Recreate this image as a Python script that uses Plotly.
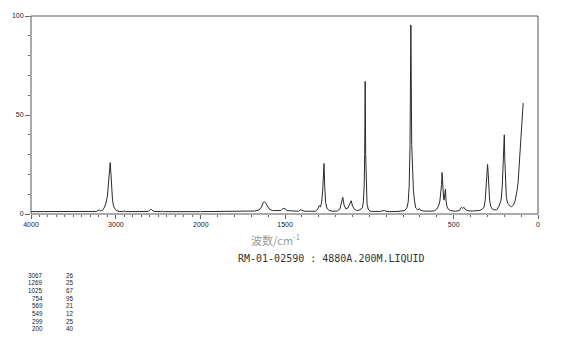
import plotly.graph_objects as go

# ---- data ----
# Raman spectrum: wavenumber (cm-1) and relative intensity (%)
wavenumber = [
    4000, 3600, 3300, 3230, 3210, 3195, 3180, 3160, 3140, 3120, 3100, 3088, 3078,
    3067, 3058, 3050, 3040, 3028, 3010, 2990, 2960, 2915, 2905, 2880, 2700, 2620,
    2600, 2588, 2575, 2550, 2470, 2455, 2440, 2300, 2150, 2000,
    1800, 1720, 1680, 1655, 1640, 1630, 1622, 1614, 1605, 1595, 1575, 1545, 1525,
    1512, 1500, 1488, 1470, 1460, 1450, 1420, 1410, 1400, 1388, 1340, 1320, 1305,
    1298, 1290, 1283, 1277, 1272, 1269, 1265, 1260, 1252, 1240, 1220, 1190, 1175,
    1166, 1158, 1150, 1140, 1128, 1118, 1108, 1100, 1088, 1075, 1062, 1050, 1042,
    1036, 1031, 1028, 1025, 1022, 1019, 1014, 1007, 998, 985, 935, 912, 902, 880,
    830, 790, 778, 770, 764, 759, 754, 749, 744, 739, 733, 725, 713, 703, 695, 680,
    640, 615, 600, 590, 582, 576, 572, 569, 565, 560, 557, 553, 549, 545, 540, 532,
    518, 490, 465, 458, 454, 447, 440, 433, 420, 390, 360, 345, 330, 320, 313, 307,
    303, 299, 295, 291, 287, 281, 272, 260, 245, 231, 219, 212, 207, 203, 200, 197,
    193, 188, 180, 172, 164, 156, 146, 137, 130, 124, 118, 114, 109, 104, 99, 94, 88,
]
intensity = [
    1.2, 1.2, 1.2, 1.3, 1.8, 2.0, 1.6, 1.8, 3.0, 5.0, 9.0, 14.0, 20.0,
    26.0, 20.0, 12.0, 7.0, 4.0, 2.5, 1.7, 1.3, 1.2, 1.6, 1.2, 1.2, 1.3,
    2.0, 2.5, 1.9, 1.3, 1.2, 1.5, 1.2, 1.2, 1.3, 1.2,
    1.2, 1.3, 1.5, 2.0, 3.5, 5.8, 6.2, 5.5, 4.0, 2.6, 1.7, 1.6, 1.8,
    2.9, 2.6, 1.7, 1.6, 1.9, 1.5, 1.4, 2.1, 2.0, 1.4, 1.3, 1.4, 2.6,
    4.2, 3.6, 6.0, 12.0, 18.0, 25.5, 14.0, 6.0, 3.0, 1.8, 1.4, 1.5, 2.5,
    5.0, 8.4, 4.5, 2.6, 3.0, 4.6, 6.7, 4.0, 2.3, 1.8, 1.9, 2.5, 3.2,
    6.0, 14.0, 30.0, 67.0, 30.0, 14.0, 5.0, 2.5, 1.5, 1.3, 1.3, 1.8, 1.4, 1.2,
    1.3, 1.8, 3.0, 6.0, 14.0, 35.0, 95.5, 35.0, 16.0, 12.0, 7.0, 3.0, 2.0, 2.8, 1.8, 1.5,
    1.4, 1.6, 2.5, 4.0, 6.5, 11.0, 15.0, 21.0, 13.0, 8.0, 7.0, 9.0, 12.6, 6.5, 3.8, 2.4,
    1.7, 1.4, 1.8, 3.0, 3.4, 2.8, 3.4, 2.5, 1.7, 1.5, 1.6, 1.8, 2.5, 3.5, 7.0, 14.0,
    20.0, 25.0, 20.0, 12.0, 7.0, 4.0, 2.6, 2.0, 2.2, 4.0, 7.0, 14.0, 24.0, 32.0, 40.0, 28.0,
    15.0, 8.7, 5.5, 4.5, 3.9, 3.7, 4.5, 6.2, 9.0, 12.0, 16.0, 20.7, 27.0, 34.0, 42.0, 49.0, 56.0,
]

# peak table printed under the chart
peak_wn = ["3067", "1269", "1025", "754", "569", "549", "299", "200"]
peak_int = ["26", "25", "67", "95", "21", "12", "25", "40"]

# axis labels
hi_ticks = [4000, 3000]
lo_ticks = [2000, 1500, 500, 0]
y_ticks = [0, 50, 100]

title_text = "RM-01-02590 : 4880A.200M.LIQUID"
xlabel_text = "波数/cm<sup>-1</sup>"

# ---- layout geometry (pixels) ----
W, H = 570, 346
L, R, T, B = 27, 538.5, 16, 214
split = (198.3 - L) / (R - L)


def px(x):
    return (x - L) / (R - L)


def py(y):
    return (B - y) / (B - T)


hi_w = [w for w in wavenumber if w >= 2000]
hi_i = [i for w, i in zip(wavenumber, intensity) if w >= 2000]
lo_w = [w for w in wavenumber if w <= 2000]
lo_i = [i for w, i in zip(wavenumber, intensity) if w <= 2000]

line = dict(color="#2a2a2a", width=1)
fig = go.Figure()
fig.add_trace(go.Scatter(x=hi_w, y=hi_i, mode="lines", line=line,
                         xaxis="x", yaxis="y", hoverinfo="skip"))
fig.add_trace(go.Scatter(x=lo_w, y=lo_i, mode="lines", line=line,
                         xaxis="x2", yaxis="y", hoverinfo="skip"))

tickfont = dict(family="Liberation Sans, Arial, sans-serif", size=7, color="#222")
axis_common = dict(
    showgrid=False, zeroline=False, showline=False,
    ticks="outside", ticklen=4, tickwidth=1, tickcolor="#666",
    tickfont=tickfont, tickmode="array",
    minor=dict(ticks="outside", ticklen=2, tickcolor="#666", dtick=100, tick0=0,
               showgrid=False),
)

fig.update_layout(
    width=W, height=H,
    margin=dict(l=L, r=W - R, t=T, b=H - B),
    paper_bgcolor="white", plot_bgcolor="white",
    showlegend=False,
    xaxis=dict(domain=[0, split], range=[4000, 2000], tickvals=hi_ticks,
               anchor="y", **axis_common),
    xaxis2=dict(domain=[split, 1], range=[2000, 0], tickvals=lo_ticks,
                anchor="y", **axis_common),
    yaxis=dict(range=[0, 100], tickvals=y_ticks, showgrid=False, zeroline=False,
               showline=False, ticks="outside", ticklen=5, tickcolor="#666",
               tickfont=tickfont,
               minor=dict(ticks="outside", ticklen=2, tickcolor="#666",
                          dtick=10, tick0=0, showgrid=False)),
    shapes=[dict(type="rect", xref="paper", yref="paper", x0=0, x1=1, y0=0, y1=1,
                 line=dict(color="#555", width=1))],
)

annots = [
    dict(text=xlabel_text, x=px(274), y=py(239), xref="paper", yref="paper",
         showarrow=False, xanchor="center", yanchor="middle",
         font=dict(family="Noto Sans CJK SC, sans-serif", size=11, color="#999")),
    dict(text=title_text, x=px(330), y=py(258), xref="paper", yref="paper",
         showarrow=False, xanchor="center", yanchor="middle",
         font=dict(family="DejaVu Sans Mono, monospace", size=10, color="#333")),
]
listfont = dict(family="Liberation Sans, sans-serif", size=6.3, color="#222")
for k, (a, b) in enumerate(zip(peak_wn, peak_int)):
    yy = py(275 + k * 7.7)
    annots.append(dict(text=a, x=px(41), y=yy, xref="paper", yref="paper",
                       showarrow=False, xanchor="right", yanchor="middle",
                       font=listfont))
    annots.append(dict(text=b, x=px(72), y=yy, xref="paper", yref="paper",
                       showarrow=False, xanchor="right", yanchor="middle",
                       font=listfont))
fig.update_layout(annotations=annots)

fig.write_html("out.html")
